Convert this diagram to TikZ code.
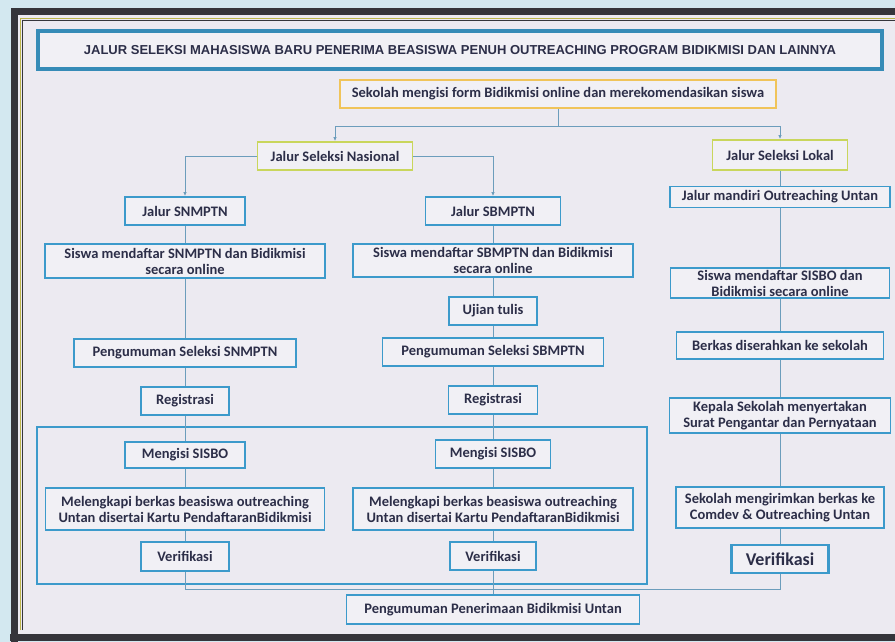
\documentclass[tikz,border=0pt]{standalone}
\usepackage{fontspec}
\setmainfont{Carlito}
\newfontfamily\titlefont[BoldFont={Liberation Sans Bold}]{Liberation Sans}
\usetikzlibrary{arrows.meta}

\definecolor{outerbg}{HTML}{D3E8F0}
\definecolor{pagebg}{HTML}{ECEAF1}
\definecolor{framegray}{HTML}{35353B}
\definecolor{boxblue}{HTML}{3C9ACB}
\definecolor{boxfill}{HTML}{F1F0F5}
\definecolor{linkblue}{HTML}{6C9DBC}
\definecolor{ink}{HTML}{2C2E48}
\definecolor{orangeline}{HTML}{F0C45A}
\definecolor{greenline}{HTML}{C9D65C}

\begin{document}
\begin{tikzpicture}[x=1pt,y=-1pt]

\tikzstyle{box}=[draw=boxblue,line width=1.8pt,fill=boxfill,text=ink,align=center,inner sep=0pt,font=\bfseries\fontsize{14.5}{16}\selectfont]
\tikzstyle{jalur}=[box,draw=greenline]
\tikzstyle{edge}=[draw=linkblue,line width=0.8pt]
\tikzstyle{tip}=[edge,-{Latex[length=4pt,width=3.5pt]}]

\def \kiri {185}
\def \tengah {493}
\def \kanan {780}

\useasboundingbox (0,0) rectangle (895,642);
\fill[outerbg] (0,0) rectangle (895,642);
\fill[pagebg] (14,12) rectangle (895,636);
\begin{scope}
  \clip (0,0) rectangle (895,642);
  \draw[framegray,line width=7pt] (14,925) -- (14,12) -- (925,12);
  \draw[framegray,line width=7pt] (10,637) -- (925,637);
  \draw[olive!60,line width=0.8pt] (20,630) -- (20,18) -- (925,18);
  \draw[framegray,line width=0.8pt] (22,630) -- (22,20) -- (925,20);
\end{scope}

\node[draw=boxblue,line width=1.8pt,minimum width=610,minimum height=157] (grup) at (342,505.5) {};

\node[box,draw=boxblue!90!black,line width=3.2pt,minimum width=844,minimum height=38,font=\titlefont\bfseries\fontsize{13}{15}\selectfont] (judul) at (460,50) {JALUR SELEKSI MAHASISWA BARU PENERIMA BEASISWA PENUH OUTREACHING PROGRAM BIDIKMISI DAN LAINNYA};

\node[box,draw=orangeline,minimum width=436,minimum height=28] (sekolah) at (558,94) {Sekolah mengisi form Bidikmisi online dan merekomendasikan siswa};
\coordinate (cabang) at (558,126);

\node[jalur,minimum width=155,minimum height=28] (nasional) at (335,156) {Jalur Seleksi Nasional};
\node[jalur,minimum width=135,minimum height=30] (lokal) at (\kanan,155) {Jalur Seleksi Lokal};

\node[box,minimum width=120,minimum height=28] (snmptn) at (\kiri,211) {Jalur SNMPTN};
\node[box,minimum width=280,minimum height=34] (daftarL) at (\kiri,261) {Siswa mendaftar SNMPTN dan Bidikmisi\\secara online};
\node[box,minimum width=222,minimum height=28] (umumL) at (\kiri,353) {Pengumuman Seleksi SNMPTN};
\node[box,minimum width=88,minimum height=28] (regL) at (\kiri,401) {Registrasi};
\node[box,minimum width=120,minimum height=26] (isiL) at (\kiri,455) {Mengisi SISBO};
\node[box,minimum width=279,minimum height=42] (berkasL) at (\kiri,509) {Melengkapi berkas beasiswa outreaching\\Untan disertai Kartu PendaftaranBidikmisi};
\node[box,minimum width=88,minimum height=29] (verL) at (\kiri,556.5) {Verifikasi};

\node[box,minimum width=135,minimum height=28] (sbmptn) at (\tengah,211) {Jalur SBMPTN};
\node[box,minimum width=280,minimum height=33] (daftarM) at (\tengah,260.5) {Siswa mendaftar SBMPTN dan Bidikmisi\\secara online};
\node[box,minimum width=88,minimum height=28] (ujian) at (\tengah,311) {Ujian tulis};
\node[box,minimum width=221,minimum height=28] (umumM) at (\tengah,352) {Pengumuman Seleksi SBMPTN};
\node[box,minimum width=89,minimum height=28] (regM) at (\tengah,400) {Registrasi};
\node[box,minimum width=115,minimum height=28] (isiM) at (\tengah,454) {Mengisi SISBO};
\node[box,minimum width=280,minimum height=42] (berkasM) at (\tengah,509) {Melengkapi berkas beasiswa outreaching\\Untan disertai Kartu PendaftaranBidikmisi};
\node[box,minimum width=86,minimum height=28] (verM) at (\tengah,556) {Verifikasi};

\node[box,minimum width=220,minimum height=21] (mandiri) at (\kanan,197) {Jalur mandiri Outreaching Untan};
\node[box,minimum width=219,minimum height=30] (sisbo) at (\kanan,283) {Siswa mendaftar SISBO dan\\Bidikmisi secara online};
\node[box,minimum width=207,minimum height=27] (serah) at (\kanan,345.5) {Berkas diserahkan ke sekolah};
\node[box,minimum width=221,minimum height=35] (kepala) at (\kanan,415.5) {Kepala Sekolah menyertakan\\Surat Pengantar dan Pernyataan};
\node[box,minimum width=208,minimum height=41] (kirim) at (\kanan,507.5) {Sekolah mengirimkan berkas ke\\Comdev \& Outreaching Untan};
\node[box,line width=2.2pt,minimum width=97,minimum height=28,font=\bfseries\fontsize{18}{20}\selectfont] (verR) at (\kanan,559) {Verifikasi};

\node[box,minimum width=293,minimum height=29] (umumAkhir) at (\tengah,609.5) {Pengumuman Penerimaan Bidikmisi Untan};
\coordinate (gabungL) at (\kiri,589);
\coordinate (gabungR) at (\kanan,589);

\path[edge] (sekolah) -- (cabang);
\path[tip] (cabang) -| (nasional);
\path[tip] (cabang) -| (lokal);
\path[tip] (nasional) -| (snmptn);
\path[tip] (nasional) -| (sbmptn);

\foreach \source/ \dest in {snmptn/daftarL, daftarL/umumL, umumL/regL, regL/isiL, isiL/berkasL, berkasL/verL,
  sbmptn/daftarM, daftarM/ujian, ujian/umumM, umumM/regM, regM/isiM, isiM/berkasM, berkasM/verM, verM/umumAkhir,
  lokal/mandiri, mandiri/sisbo, sisbo/serah, serah/kepala, kepala/kirim, kirim/verR}
{
   \path[edge] (\source) -- (\dest);
}
\path[edge] (verL) -- (gabungL) -- (gabungR) -- (verR);
\end{tikzpicture}
\end{document}
